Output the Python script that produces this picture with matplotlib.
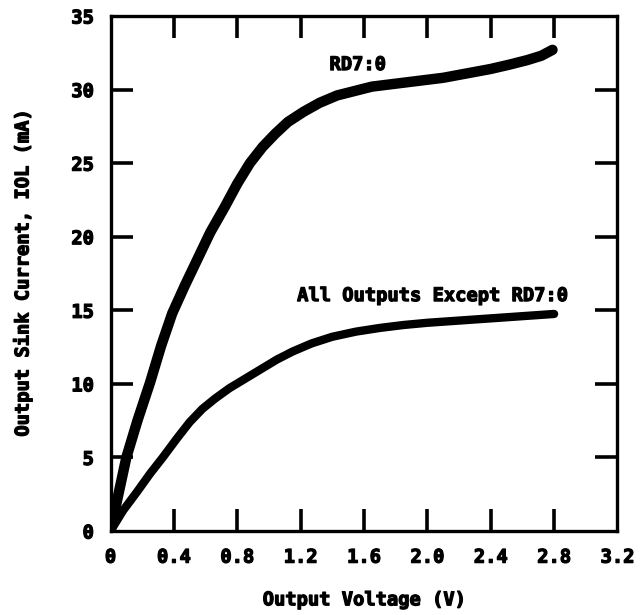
import numpy as np
from matplotlib import pyplot as plt
from matplotlib import patheffects as pe

# curve readings, output voltage (V) vs sink current (mA)
rd7_v = [0, 0.05, 0.10, 0.17, 0.25, 0.32, 0.39, 0.47, 0.55, 0.63, 0.72, 0.80, 0.88, 0.96, 1.04,
         1.12, 1.22, 1.32, 1.43, 1.54, 1.65, 1.80, 1.95, 2.10, 2.25, 2.40, 2.52, 2.63, 2.72, 2.79]
rd7_i = [0, 2.5, 5.0, 7.5, 10.1, 12.6, 14.8, 16.7, 18.5, 20.3, 22.0, 23.6, 25.0, 26.1, 27.0,
         27.8, 28.5, 29.1, 29.6, 29.9, 30.2, 30.4, 30.6, 30.8, 31.1, 31.4, 31.7, 32.0, 32.3, 32.7]

other_v = [0, 0.08, 0.17, 0.25, 0.33, 0.42, 0.50, 0.58, 0.66, 0.75, 0.85, 0.95, 1.05, 1.15,
           1.27, 1.40, 1.55, 1.70, 1.85, 2.00, 2.20, 2.40, 2.60, 2.80]
other_i = [0, 1.4, 2.7, 3.9, 5.0, 6.3, 7.4, 8.3, 9.0, 9.7, 10.35, 11.0, 11.65, 12.2,
           12.75, 13.2, 13.55, 13.8, 14.0, 14.15, 14.3, 14.45, 14.6, 14.75]

x_ticks = [0, 0.4, 0.8, 1.2, 1.6, 2.0, 2.4, 2.8, 3.2]
x_labels = ["0", "0.4", "0.8", "1.2", "1.6", "2.0", "2.4", "2.8", "3.2"]
y_ticks = [0, 5, 10, 15, 20, 25, 30, 35]

plt.rcParams['font.family'] = ['DejaVu Sans Mono']
plt.rcParams['font.weight'] = 'bold'

heavy = [pe.withStroke(linewidth=0.9, foreground='black')]

fig = plt.figure(figsize=(6.44, 6.15), dpi=100)
ax = fig.add_axes([0.1716, 0.1366, 0.7872, 0.8374])

ax.plot(rd7_v, rd7_i, color='black', lw=7.5, solid_capstyle='round', solid_joinstyle='round')
ax.plot(other_v, other_i, color='black', lw=6, solid_capstyle='round', solid_joinstyle='round')

ax.text(1.56, 31.7, "RD7:0", fontsize=13.5, fontweight='bold', ha='center', va='center',
        path_effects=heavy)
ax.text(2.03, 16.0, "All Outputs Except RD7:0", fontsize=13.5, fontweight='bold',
        ha='center', va='center', path_effects=heavy)

ax.set_xlim(0, 3.2)
ax.set_ylim(0, 35)
ax.set_xticks(x_ticks)
ax.set_xticklabels(x_labels)
ax.set_yticks(y_ticks)
ax.tick_params(direction='in', length=16, width=2.6, top=True, right=True,
               labelsize=13.5, pad=12)
# ticks at the limits sit on the frame, hide their marks
for axis in (ax.xaxis, ax.yaxis):
    tks = axis.get_major_ticks()
    for t in (tks[0], tks[-1]):
        t.tick1line.set_visible(False)
        t.tick2line.set_visible(False)
for lab in ax.get_xticklabels() + ax.get_yticklabels():
    lab.set_fontweight('bold')
    lab.set_path_effects(heavy)
for s in ax.spines.values():
    s.set_linewidth(2.4)

ax.set_xlabel("Output Voltage (V)", fontsize=13.5, fontweight='bold', labelpad=17,
              path_effects=heavy)
ax.set_ylabel("Output Sink Current, IOL (mA)", fontsize=13.5, fontweight='bold', labelpad=28,
              path_effects=heavy)

fig.savefig("out.png", dpi=100)
